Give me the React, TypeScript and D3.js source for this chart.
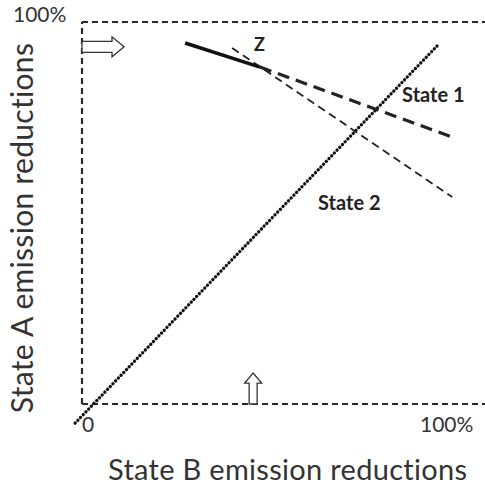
import * as d3 from "d3";

// frame of the diagram, percent of emission reductions
const frameLeft: [number, number][] = [[0, 0], [0, 100]];
const frameTop: [number, number][] = [[0, 100], [105.5, 100]];
const frameBottom: [number, number][] = [[0, 0], [105.5, 0]];

// reaction lines (State B %, State A %)
const zSegment: [number, number][] = [[27.0, 94.5], [46.6, 88.2]];
const state1Line: [number, number][] = [[46.6, 88.2], [96.9, 69.9]];
const state2Line: [number, number][] = [[39.3, 93.2], [96.9, 54.2]];
const diagonal: [number, number][] = [[-1.8, -5.0], [93.2, 94.0]];

// arrows: start point and end point in data units
const rightArrow: [number, number][] = [[0, 93.5], [11, 93.5]];
const upArrow: [number, number][] = [[44.8, 0], [44.8, 8.1]];

const labels = [
  { text: "Z", x: 45.0, y: 92.4 },
  { text: "State 1", x: 83.8, y: 79.0 },
  { text: "State 2", x: 61.8, y: 50.7 },
];

const xTicks = [
  { text: "0", v: 0 },
  { text: "100%", v: 100 },
];

const W = 485;
const H = 486;

export default function App() {
  const x = d3.scaleLinear().domain([0, 100]).range([82, 464]);
  const y = d3.scaleLinear().domain([0, 100]).range([404, 22]);
  const line = d3
    .line<[number, number]>()
    .x((d) => x(d[0]))
    .y((d) => y(d[1]));

  // hollow right arrow
  const rx0 = x(rightArrow[0][0]);
  const rx1 = x(rightArrow[1][0]);
  const ry = y(rightArrow[0][1]);
  const rHead = rx1 - 12;
  const rPath = `M${rx0},${ry - 5.5} L${rHead},${ry - 5.5} L${rHead},${ry - 10} L${rx1},${ry} L${rHead},${ry + 10} L${rHead},${ry + 5.5} L${rx0},${ry + 5.5} Z`;

  // hollow up arrow
  const ux = x(upArrow[0][0]);
  const uy0 = y(upArrow[0][1]);
  const uy1 = y(upArrow[1][1]);
  const uHead = uy1 + 10;
  const uPath = `M${ux - 4},${uy0} L${ux - 4},${uHead} L${ux - 8.5},${uHead} L${ux},${uy1} L${ux + 8.5},${uHead} L${ux + 4},${uHead} L${ux + 4},${uy0} Z`;

  const font = "Lato, 'Open Sans', sans-serif";

  return (
    <svg
      width={W}
      height={H}
      style={{ position: "absolute", left: 0, top: 0, background: "#fff" }}
      fontFamily={font}
    >
      <rect width={W} height={H} fill="#fff" />

      {/* dashed frame */}
      {[frameLeft, frameTop, frameBottom].map((d, i) => (
        <path
          key={i}
          d={line(d) ?? ""}
          fill="none"
          stroke="#2a2a2a"
          strokeWidth={2.2}
          strokeDasharray="6,4"
        />
      ))}

      {/* 45 degree dotted line */}
      <path
        d={line(diagonal) ?? ""}
        fill="none"
        stroke="#111"
        strokeWidth={3.3}
        strokeDasharray="0.1,3.8"
        strokeLinecap="round"
      />

      {/* State 2 thin dashed */}
      <path
        d={line(state2Line) ?? ""}
        fill="none"
        stroke="#222"
        strokeWidth={1.8}
        strokeDasharray="8,5"
      />

      {/* State 1 thick dashed */}
      <path
        d={line(state1Line) ?? ""}
        fill="none"
        stroke="#222"
        strokeWidth={3.2}
        strokeDasharray="12,7"
      />

      {/* solid segment toward Z */}
      <path
        d={line(zSegment) ?? ""}
        fill="none"
        stroke="#111"
        strokeWidth={3.5}
      />

      <path d={rPath} fill="#fff" stroke="#333" strokeWidth={1.3} />
      <path d={uPath} fill="#fff" stroke="#333" strokeWidth={1.3} />

      {labels.map((l) => (
        <text
          key={l.text}
          x={x(l.x)}
          y={y(l.y)}
          fontSize={l.text === "Z" ? 18 : 20}
          fontWeight="bold"
          fill="#222"
        >
          {l.text}
        </text>
      ))}

      {xTicks.map((t) => (
        <text
          key={t.text}
          x={x(t.v) + (t.v === 0 ? 0 : -44)}
          y={432}
          fontSize={21}
          fill="#333"
        >
          {t.text}
        </text>
      ))}
      <text x={13} y={22} fontSize={21} fill="#333">
        100%
      </text>

      <text x={108} y={480} fontSize={29} letterSpacing={0.3} fill="#333">
        State B emission reductions
      </text>
      <text
        transform={`translate(33,228) rotate(-90)`}
        textAnchor="middle"
        fontSize={30}
        letterSpacing={0.3}
        fill="#333"
      >
        State A emission reductions
      </text>
    </svg>
  );
}
